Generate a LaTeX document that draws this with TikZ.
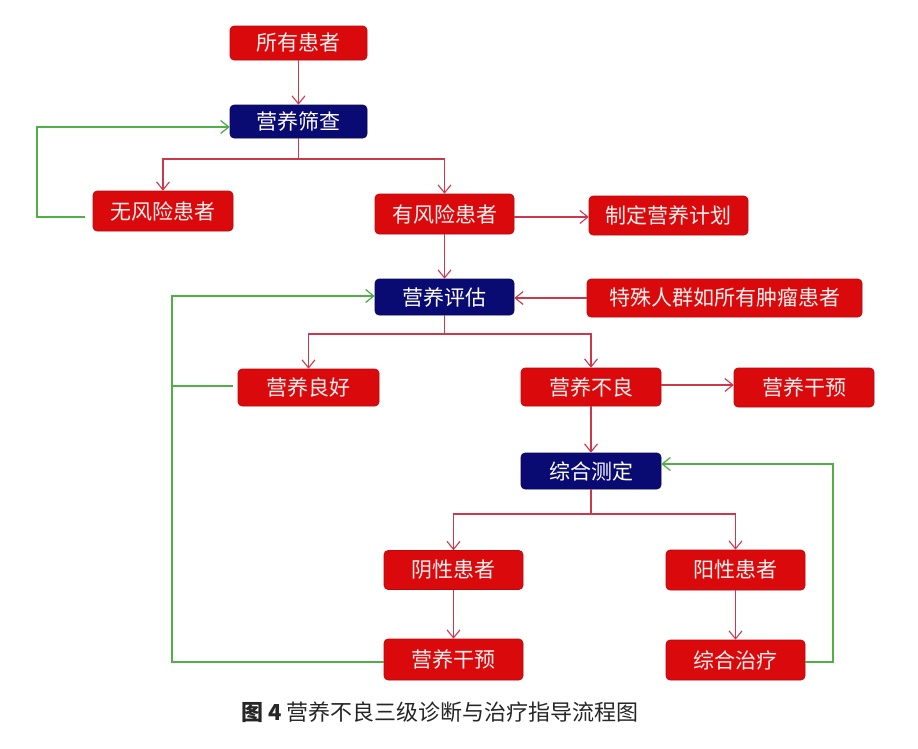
\documentclass[tikz,border=0pt]{standalone}
\usepackage{fontspec}
\setmainfont{Noto Sans CJK SC}
\usetikzlibrary{arrows.meta}
\definecolor{boxred}{RGB}{218,10,12}
\definecolor{boxnavy}{RGB}{10,10,115}
\definecolor{linered}{RGB}{205,55,75}
\definecolor{linegreen}{RGB}{80,175,70}
\definecolor{boxtext}{RGB}{255,240,240}
\begin{document}
\begin{tikzpicture}[x=1pt,y=-1pt,
  rbox/.style={draw=boxred!85!black, fill=boxred, text=boxtext, rounded corners=4pt,
    inner sep=0pt, line width=0.6pt, font=\fontsize{21}{21}\selectfont},
  nbox/.style={rbox, draw=boxnavy!80!black, fill=boxnavy, text=white},
  rl/.style={draw=linered, line width=1.1pt},
  rla/.style={rl, -{Straight Barb[length=8pt,width=13pt]}},
  gl/.style={draw=linegreen, line width=1.3pt},
  gla/.style={gl, -{Straight Barb[length=8pt,width=13pt]}}]
\fill[white] (0,0) rectangle (918,748);
\useasboundingbox (0,0) rectangle (918,748);

\node[rbox, minimum width=137pt, minimum height=34pt] (all) at (298.5,43) {所有患者};
\node[nbox, minimum width=137pt, minimum height=33pt] (scr) at (298.5,121.5) {营养筛查};
\node[rbox, minimum width=140pt, minimum height=40pt] (nr) at (163,211) {无风险患者};
\node[rbox, minimum width=139pt, minimum height=40pt] (yr) at (444.5,214) {有风险患者};
\node[rbox, minimum width=159pt, minimum height=39pt] (plan) at (668.5,215.5) {制定营养计划};
\node[nbox, minimum width=139pt, minimum height=36pt] (pg) at (444.5,297) {营养评估};
\node[rbox, minimum width=275pt, minimum height=38pt] (sp) at (724.5,298) {特殊人群如所有肿瘤患者};
\node[rbox, minimum width=141pt, minimum height=37pt] (good) at (308.5,387.5) {营养良好};
\node[rbox, minimum width=140pt, minimum height=38pt] (bad) at (591,387) {营养不良};
\node[rbox, minimum width=140pt, minimum height=39pt] (ni1) at (804,387.5) {营养干预};
\node[nbox, minimum width=140pt, minimum height=36pt] (zc) at (591,471) {综合测定};
\node[rbox, minimum width=139pt, minimum height=39pt] (neg) at (453.5,570) {阴性患者};
\node[rbox, minimum width=139pt, minimum height=40pt] (pos) at (735.5,570) {阳性患者};
\node[rbox, minimum width=139pt, minimum height=41pt] (ni2) at (453.5,659.5) {营养干预};
\node[rbox, minimum width=139pt, minimum height=40pt] (zl) at (735.5,660) {综合治疗};

\node[font=\fontsize{22}{22}\selectfont, text=black!85] (cap) at (440,712) {{\bfseries 图 4} 营养不良三级诊断与治疗指导流程图};

% red connectors
\draw[rla] (all) -- (scr);
\coordinate (j1) at (298.5,159);
\draw[rl] (scr.south) -- (j1);
\draw[rla] (j1) -| (nr.north);
\draw[rla] (j1) -| (yr.north);
\draw[rla] ([yshift=-3pt]yr.east) -- ([yshift=-3pt]yr.east -| plan.west);
\draw[rla] (yr) -- (pg);
\draw[rla] (sp.west) -- (sp.west -| pg.east);
\coordinate (j2) at (444.5,334);
\draw[rl] (pg.south) -- (j2);
\draw[rla] (j2) -| (good.north);
\draw[rla] (j2) -| (bad.north);
\draw[rla] ([yshift=2pt]bad.east) -- ([yshift=2pt]bad.east -| ni1.west);
\draw[rla] (bad) -- (zc);
\coordinate (j3) at (591,514);
\draw[rl] (zc.south) -- (j3);
\draw[rla] (j3) -| (neg.north);
\draw[rla] (j3) -| (pos.north);
\draw[rla] (neg) -- (ni2);
\draw[rla] (pos) -- (zl);

% green feedback loops
\coordinate (g1) at (37,127);
\draw[gla] ([xshift=-8pt,yshift=-6pt]nr.west) -| (g1) -- ([yshift=-5.5pt]scr.west);
\coordinate (g2) at (172,296);
\draw[gla] ([yshift=-2.5pt]ni2.west) -| (g2) -- ([yshift=1pt]pg.west);
\draw[gl] ([xshift=-5pt,yshift=1.5pt]good.west) -- ([yshift=1.5pt]good.west -| g2);
\coordinate (g3) at (833,464);
\draw[gla] ([yshift=-2pt]zl.east) -| (g3) -- ([yshift=7pt]zc.east);
\end{tikzpicture}
\end{document}
